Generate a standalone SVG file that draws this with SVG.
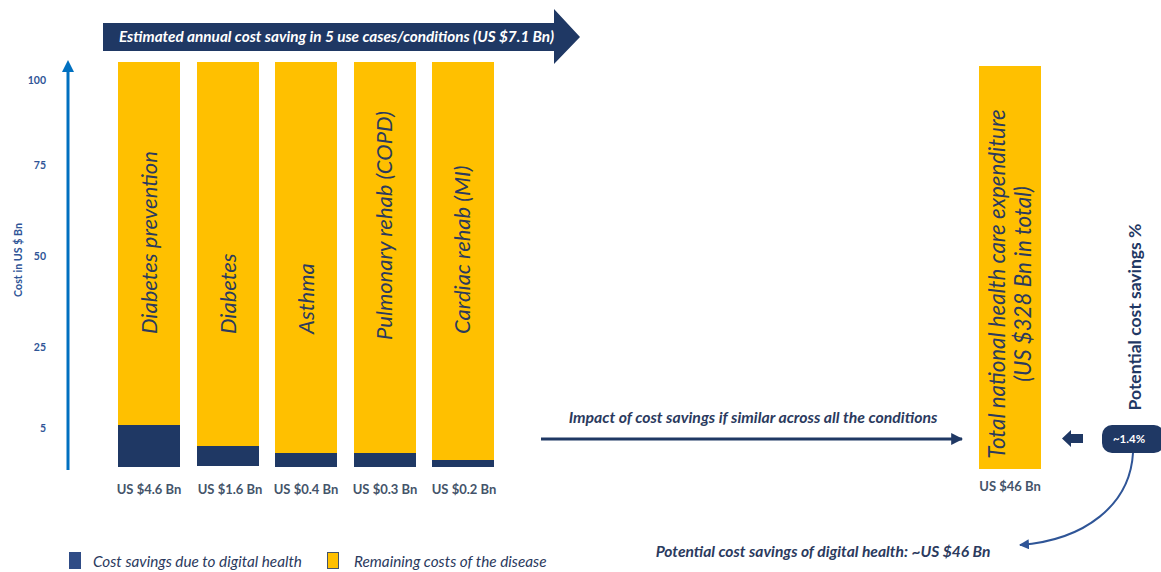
<svg xmlns="http://www.w3.org/2000/svg" width="1161" height="572" viewBox="0 0 1161 572">
<defs>
<style>
.t{font-family:Lato,"Open Sans","Liberation Sans",sans-serif;}
.tick{font-size:10.5px;font-weight:bold;fill:#2F5597;text-anchor:end;}
.val{font-size:13px;font-weight:bold;fill:#44546A;text-anchor:middle;}
.bl{font-size:22px;font-style:italic;fill:#2B3A5E;}
.it{font-style:italic;font-weight:bold;fill:#2B3A5E;}
.yel{fill:#FFC000;}
.nav{fill:#1F3864;}
</style>
<marker id="ah" viewBox="0 0 10 10" refX="9" refY="5" markerWidth="4" markerHeight="4" orient="auto"><path d="M0,0 L10,5 L0,10 z" fill="#1F3864"/></marker>
<marker id="ah2" viewBox="0 0 10 10" refX="9" refY="5" markerWidth="5" markerHeight="5" orient="auto"><path d="M0,0 L10,5 L0,10 z" fill="#2F5597"/></marker>
<marker id="axh" viewBox="0 0 10 10" refX="5" refY="5" markerWidth="4" markerHeight="4" orient="auto"><path d="M0,0 L10,5 L0,10 z" fill="#0070C0"/></marker>
</defs>
<rect width="1161" height="572" fill="#FFFFFF"/>

<g id="banner">
<path d="M103,23 L554,23 L554,9 L580,37 L554,64 L554,51 L103,51 z" fill="#1F3864"/>
<text class="t" x="119" y="42" font-size="15.3" font-style="italic" font-weight="bold" fill="#FFFFFF">Estimated annual cost saving in 5 use cases/conditions (US $7.1 Bn)</text>
</g>

<g id="axis">
<line x1="68" y1="470" x2="68" y2="66" stroke="#0070C0" stroke-width="3" marker-end="url(#axh)"/>
<text class="t tick" x="46" y="84">100</text>
<text class="t tick" x="46" y="169">75</text>
<text class="t tick" x="46" y="260">50</text>
<text class="t tick" x="46" y="351">25</text>
<text class="t tick" x="46" y="432">5</text>
<text class="t" transform="translate(22,260) rotate(-90)" font-size="10.7" font-weight="bold" fill="#2F5597" text-anchor="middle">Cost in US $ Bn</text>
</g>

<g id="bar1">
<rect class="yel" x="118" y="62" width="62" height="364"/>
<rect class="nav" x="118" y="425" width="62" height="42"/>
<text class="t bl" transform="translate(157,334) rotate(-90)">Diabetes prevention</text>
<text class="t val" x="149" y="494">US $4.6 Bn</text>
</g>
<g id="bar2">
<rect class="yel" x="197" y="62" width="62" height="385"/>
<rect class="nav" x="197" y="446" width="62" height="20"/>
<text class="t bl" transform="translate(236,334) rotate(-90)">Diabetes</text>
<text class="t val" x="230" y="494">US $1.6 Bn</text>
</g>
<g id="bar3">
<rect class="yel" x="275" y="62" width="62" height="392"/>
<rect class="nav" x="275" y="453" width="62" height="14"/>
<text class="t bl" transform="translate(314,334) rotate(-90)">Asthma</text>
<text class="t val" x="306" y="494">US $0.4 Bn</text>
</g>
<g id="bar4">
<rect class="yel" x="354" y="62" width="62" height="392"/>
<rect class="nav" x="354" y="453" width="62" height="14"/>
<text class="t bl" transform="translate(392,340) rotate(-90)">Pulmonary rehab (COPD)</text>
<text class="t val" x="385" y="494">US $0.3 Bn</text>
</g>
<g id="bar5">
<rect class="yel" x="432" y="62" width="62" height="399"/>
<rect class="nav" x="432" y="460" width="62" height="7"/>
<text class="t bl" transform="translate(470,334) rotate(-90)">Cardiac rehab (MI)</text>
<text class="t val" x="464" y="494">US $0.2 Bn</text>
</g>

<g id="total">
<rect class="yel" x="979" y="66" width="62" height="403"/>
<text class="t" transform="translate(1005,284) rotate(-90)" font-size="22.3" font-style="italic" fill="#2B3A5E" text-anchor="middle">Total national health care expenditure</text>
<text class="t" transform="translate(1031,284) rotate(-90)" font-size="22.3" font-style="italic" fill="#2B3A5E" text-anchor="middle">(US $328 Bn in total)</text>
<text class="t val" x="1010" y="491">US $46 Bn</text>
</g>

<g id="pct">
<rect x="1102" y="425" width="62" height="28" rx="10" fill="#1F3864"/>
<text class="t" x="1129" y="443" font-size="11.5" font-weight="bold" fill="#FFFFFF" text-anchor="middle">~1.4%</text>
<text class="t" transform="translate(1141,317) rotate(-90)" font-size="17.5" font-weight="bold" fill="#1F3864" text-anchor="middle">Potential cost savings %</text>
</g>

<g id="connectors">
<line x1="541" y1="439" x2="962" y2="439" stroke="#1F3864" stroke-width="3" marker-end="url(#ah)"/>
<text class="t it" x="753" y="423" font-size="15.8" text-anchor="middle">Impact of cost savings if similar across all the conditions</text>
<path d="M1083,434 L1071,434 L1071,430 L1062,438.5 L1071,447 L1071,443 L1083,443 z" fill="#1F3864"/>
<path d="M1133,453 C1130,505 1085,540 1020,545" fill="none" stroke="#2F5597" stroke-width="2" marker-end="url(#ah2)"/>
<text class="t it" x="823" y="557" font-size="15.6" text-anchor="middle">Potential cost savings of digital health: ~US $46 Bn</text>
</g>

<g id="legend">
<rect x="69" y="552" width="12" height="17" fill="#2F4C86"/>
<text class="t" x="93" y="567" font-size="15.3" font-style="italic" fill="#2B3A5E">Cost savings due to digital health</text>
<rect x="327.5" y="552.5" width="11" height="16" fill="#FFC000" stroke="#44546A" stroke-width="1"/>
<text class="t" x="354" y="567" font-size="15.3" font-style="italic" fill="#2B3A5E">Remaining costs of the disease</text>
</g>
</svg>
